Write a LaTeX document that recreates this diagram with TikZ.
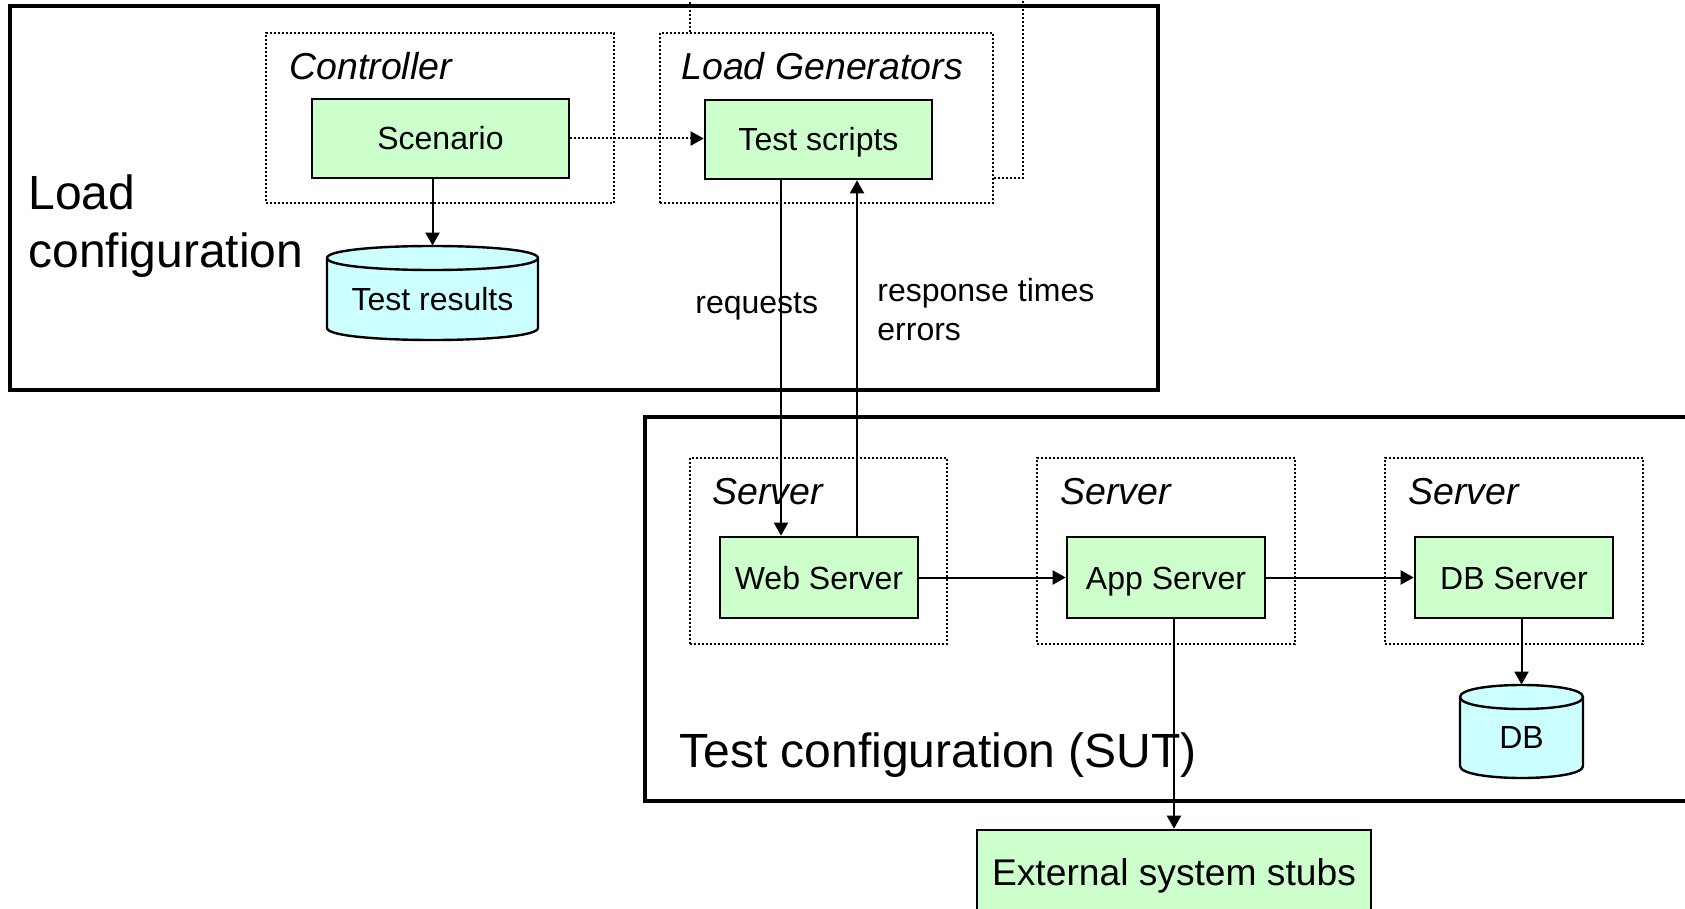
\documentclass[tikz,border=0pt]{standalone}
\usepackage{fontspec}
\setmainfont{Liberation Sans}
\usetikzlibrary{arrows.meta}
\definecolor{boxgreen}{HTML}{CCFFCC}
\definecolor{dbcyan}{HTML}{CCFFFF}
\tikzset{
  bigframe/.style={draw=black, line width=1.6pt},
  groupline/.style={draw=black, line width=1pt, dash pattern=on 1pt off 1pt},
  groupbox/.style={groupline, fill=white, inner sep=0pt, rectangle},
  comp/.style={draw=black, fill=boxgreen, line width=1.3pt, inner sep=0pt, rectangle, text height=11.5pt, text depth=0pt, font=\fontsize{16pt}{19pt}\selectfont},
  cylnode/.style={inner sep=0pt, rectangle, text depth=0pt, font=\fontsize{16pt}{19pt}\selectfont},
  cylbody/.style={draw=black, fill=dbcyan, line width=1.2pt},
  grouplabel/.style={anchor=base west, inner sep=0pt, font=\fontsize{18.75pt}{22pt}\selectfont\itshape},
  biglabel/.style={anchor=base west, inner sep=0pt, font=\fontsize{24pt}{29pt}\selectfont},
  flowlabel/.style={anchor=base west, inner sep=0pt, font=\fontsize{16pt}{19pt}\selectfont},
  arr/.style={-{Triangle[length=6.5pt,width=7pt]}, line width=1pt},
  dotarr/.style={arr, dash pattern=on 1pt off 1pt},
}
\begin{document}
\begin{tikzpicture}[x=0.5pt, y=-0.5pt]
\useasboundingbox (0,0) rectangle (1685,909);
\clip (0,0) rectangle (1685,909);

% outer frames
\draw[bigframe] (10,6) rectangle (1158,390);
\draw[bigframe] (645,417) rectangle (1720,801);

% load configuration area
\draw[groupline] (690,-10) rectangle (1023,178);
\node[groupbox, minimum width=174pt, minimum height=85pt] (ctrl) at (440,118) {};
\node[groupbox, minimum width=166.5pt, minimum height=85pt] (lg) at (826.5,118) {};
\node[grouplabel] (ctrllab) at (289,80) {Controller};
\node[grouplabel] (lglab) at (681,80) {Load Generators};
\node[comp, minimum width=128.5pt, minimum height=39.5pt] (scen) at (440.5,138.5) {Scenario};
\node[comp, minimum width=113.5pt, minimum height=39.5pt] (ts) at (818.5,139.5) {Test scripts};

% Test results cylinder
\path[cylbody] (327,258) -- (327,328) .. controls (327,344) and (538,344) .. (538,328)
  -- (538,258) .. controls (538,242) and (327,242) .. (327,258) -- cycle;
\draw[line width=1.2pt] (327,258) .. controls (327,274) and (538,274) .. (538,258);
\node[cylnode, text height=17.2pt, minimum width=105.5pt, minimum height=47pt] (tr) at (432.5,293) {Test results};

\node[biglabel] (lc1) at (28,210) {Load};
\node[biglabel] (lc2) at (28,267) {configuration};

\node[flowlabel] (req) at (695,313) {requests};
\node[flowlabel] (resp1) at (877,301) {response times};
\node[flowlabel] (resp2) at (877,340) {errors};

% test configuration area
\node[groupbox, minimum width=128.5pt, minimum height=93pt] (s1) at (818.5,551) {};
\node[groupbox, minimum width=129pt, minimum height=93pt] (s2) at (1166,551) {};
\node[groupbox, minimum width=129pt, minimum height=93pt] (s3) at (1514,551) {};
\node[grouplabel] (s1lab) at (712,504) {Server};
\node[grouplabel] (s2lab) at (1060,504) {Server};
\node[grouplabel] (s3lab) at (1408,504) {Server};
\node[comp, minimum width=99pt, minimum height=40.5pt] (ws) at (819,577.5) {Web Server};
\node[comp, minimum width=99pt, minimum height=40.5pt] (as) at (1166,577.5) {App Server};
\node[comp, minimum width=99pt, minimum height=40.5pt] (dbs) at (1514,577.5) {DB Server};

% DB cylinder
\path[cylbody] (1460,697) -- (1460,766) .. controls (1460,782) and (1583,782) .. (1583,766)
  -- (1583,697) .. controls (1583,681) and (1460,681) .. (1460,697) -- cycle;
\draw[line width=1.2pt] (1460,697) .. controls (1460,713) and (1583,713) .. (1583,697);
\node[cylnode, text height=17pt, minimum width=61.5pt, minimum height=46.5pt] (db) at (1521.5,731.5) {DB};

\node[biglabel] (tc) at (679,767) {Test configuration (SUT)};

\node[comp, minimum width=197pt, minimum height=42pt, text height=13.3pt, font=\fontsize{18.6pt}{22pt}\selectfont] (ext) at (1174,872) {External system stubs};

% connectors
\draw[dotarr] (scen.east) -- (scen.east -| ts.west);
\draw[arr] (tr.north |- scen.south) -- (tr.north);
\draw[arr] ([xshift=-18.75pt]ts.south) -- ([xshift=-18.75pt]ts.south |- ws.north);
\draw[arr] ([xshift=19.25pt]ts.south |- ws.north) -- ([xshift=19.25pt]ts.south);
\draw[arr] (ws.east) -- (as.west);
\draw[arr] (as.east) -- (dbs.west);
\draw[arr] (db.north |- dbs.south) -- (db.north);
\draw[arr] (ext.north |- as.south) -- (ext.north);
\end{tikzpicture}
\end{document}
